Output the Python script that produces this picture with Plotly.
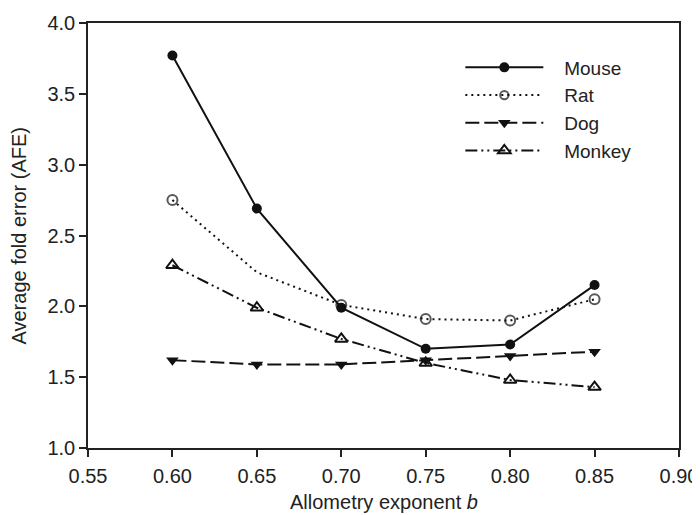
import plotly.graph_objects as go

exponent_b = [0.60, 0.65, 0.70, 0.75, 0.80, 0.85]
mouse = [3.77, 2.69, 1.99, 1.70, 1.73, 2.15]
rat = [2.75, 2.24, 2.01, 1.91, 1.90, 2.05]
dog = [1.62, 1.59, 1.59, 1.62, 1.65, 1.68]
monkey = [2.29, 1.99, 1.77, 1.60, 1.48, 1.43]

x_ticks = [0.55, 0.60, 0.65, 0.70, 0.75, 0.80, 0.85, 0.90]
y_ticks = [1.0, 1.5, 2.0, 2.5, 3.0, 3.5, 4.0]

pad = "\u00a0\u00a0\u00a0"

fig = go.Figure()
fig.add_trace(go.Scatter(x=exponent_b, y=mouse, name=pad + "Mouse", mode="lines+markers",
                         line=dict(color="#111", width=2, dash="solid"),
                         marker=dict(symbol="circle", size=10, color="#111")))
fig.add_trace(go.Scatter(x=exponent_b, y=rat, name=pad + "Rat", mode="lines+markers",
                         line=dict(color="#111", width=2, dash="2px,4px"),
                         marker=dict(symbol="circle-open", size=[10, 0, 10, 10, 10, 10], color="#111",
                                     line=dict(width=2, color="#111"))))
fig.add_trace(go.Scatter(x=exponent_b, y=dog, name=pad + "Dog", mode="lines+markers",
                         line=dict(color="#111", width=2, dash="14px,5px"),
                         marker=dict(symbol="triangle-down", size=11, color="#111")))
fig.add_trace(go.Scatter(x=exponent_b, y=monkey, name=pad + "Monkey", mode="lines+markers",
                         line=dict(color="#111", width=2, dash="12px,4px,2px,4px,2px,4px"),
                         marker=dict(symbol="triangle-up-open", size=11, color="#111",
                                     line=dict(width=2, color="#111"))))

axis_common = dict(showgrid=False, zeroline=False, showline=True, linecolor="#222", linewidth=1.5,
                   ticks="outside", ticklen=7, tickcolor="#222", tickwidth=1.5,
                   tickfont=dict(size=20, color="#222"), mirror=True, automargin=False)

fig.update_xaxes(range=[0.55, 0.90], tickvals=x_ticks, ticktext=[f"{v:.2f}" for v in x_ticks],
                 ticklabelstandoff=2, **axis_common)
fig.update_yaxes(range=[1.0, 4.0], tickvals=y_ticks, ticktext=[f"{v:.1f}" for v in y_ticks],
                 **axis_common)

fig.add_annotation(text="Allometry exponent <i>b</i>", xref="paper", yref="paper", x=0.5, y=0,
                   xanchor="center", yanchor="top", yshift=-41, showarrow=False,
                   font=dict(size=20, color="#222"))
fig.add_annotation(text="Average fold error (AFE)", xref="paper", yref="paper", x=0, y=0.5,
                   xanchor="right", yanchor="middle", xshift=-57, textangle=-90, showarrow=False,
                   font=dict(size=20, color="#222"))

fig.update_layout(
    width=692, height=507,
    margin=dict(l=80, r=21, t=15, b=67),
    paper_bgcolor="white", plot_bgcolor="white",
    font=dict(family="Liberation Sans, Arial, sans-serif", size=20, color="#222"),
    legend=dict(x=0.63, y=0.94, xanchor="left", yanchor="top", bgcolor="rgba(0,0,0,0)",
                itemwidth=78, font=dict(size=19), tracegroupgap=0),
)

fig.write_html("out.html")
